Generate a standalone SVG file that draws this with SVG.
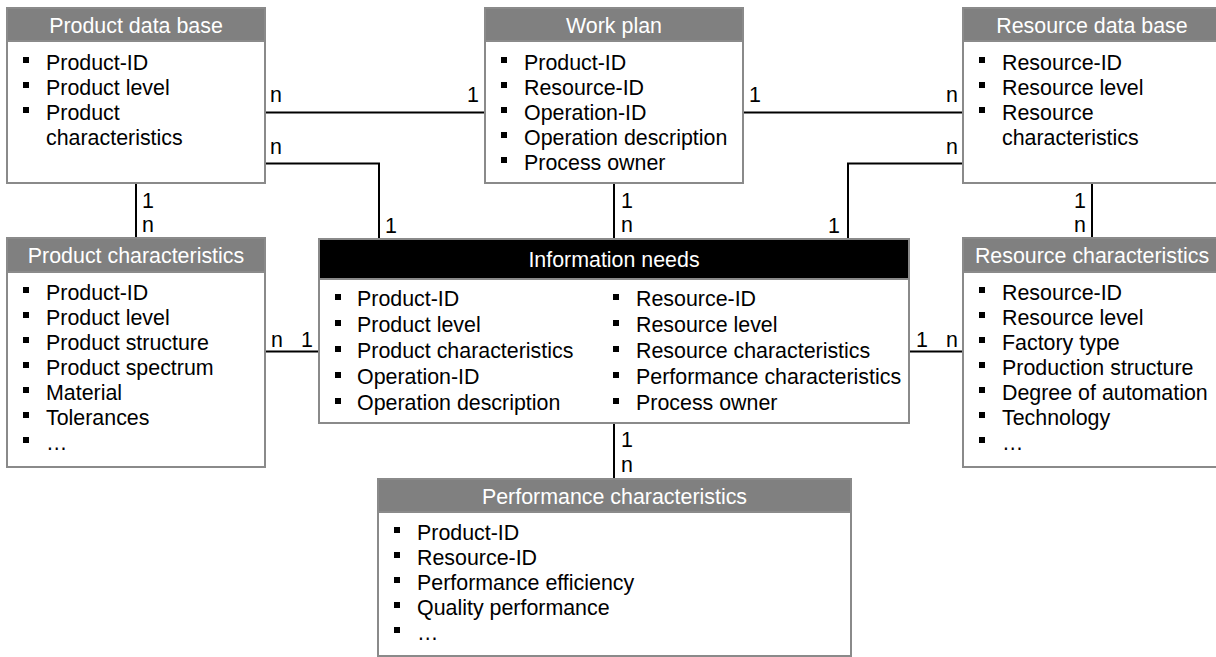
<svg xmlns="http://www.w3.org/2000/svg" width="1216" height="657" viewBox="0 0 1216 657">
<style>
text{font-family:"Liberation Sans",Arial,sans-serif;font-size:21.4px;fill:#000}
.body{fill:#fff;stroke:#8a8a8a;stroke-width:2}
.hd{fill:#808080;stroke:#8a8a8a;stroke-width:2}
.hdb{fill:#000;stroke:#8a8a8a;stroke-width:2}
.ht{fill:#fff;text-anchor:middle}
.b{fill:#000}
.ln{fill:none;stroke:#000;stroke-width:2}
.e{text-anchor:end}
</style>
<rect width="1216" height="657" fill="#fff"/>
<g id="connectors">
<path class="ln" d="M265 112.5H485"/>
<path class="ln" d="M743 112.5H963"/>
<path class="ln" d="M265 163.5H379V239"/>
<path class="ln" d="M963 163.5H848V239"/>
<path class="ln" d="M614 183V239"/>
<path class="ln" d="M136 183V238"/>
<path class="ln" d="M1092 183V238"/>
<path class="ln" d="M265 351.5H319"/>
<path class="ln" d="M909 351.5H963"/>
<path class="ln" d="M614 423V479"/>
<text x="270" y="102">n</text>
<text class="e" x="479" y="102">1</text>
<text x="749" y="102">1</text>
<text class="e" x="958" y="102">n</text>
<text x="270" y="154">n</text>
<text class="e" x="958" y="154">n</text>
<text x="385" y="233">1</text>
<text class="e" x="840" y="233">1</text>
<text x="621" y="208">1</text>
<text x="621" y="232">n</text>
<text x="142" y="208">1</text>
<text x="142" y="232">n</text>
<text class="e" x="1086" y="208">1</text>
<text class="e" x="1086" y="232">n</text>
<text x="271" y="347">n</text>
<text class="e" x="313" y="347">1</text>
<text x="916" y="347">1</text>
<text class="e" x="958" y="347">n</text>
<text x="621" y="447">1</text>
<text x="621" y="472">n</text>
</g>
<g id="product-db">
<rect class="body" x="7" y="8" width="258" height="175"/>
<rect class="hd" x="7" y="8" width="258" height="33"/>
<text class="ht" x="136" y="32.5">Product data base</text>
<rect class="b" x="23" y="57" width="6" height="6"/><text x="46" y="69.5">Product-ID</text>
<rect class="b" x="23" y="82" width="6" height="6"/><text x="46" y="94.5">Product level</text>
<rect class="b" x="23" y="107" width="6" height="6"/><text x="46" y="119.5">Product</text>
<text x="46" y="144.5">characteristics</text>
</g>
<g id="work-plan">
<rect class="body" x="485" y="8" width="258" height="175"/>
<rect class="hd" x="485" y="8" width="258" height="33"/>
<text class="ht" x="614" y="32.5">Work plan</text>
<rect class="b" x="501" y="57" width="6" height="6"/><text x="524" y="69.5">Product-ID</text>
<rect class="b" x="501" y="82" width="6" height="6"/><text x="524" y="94.5">Resource-ID</text>
<rect class="b" x="501" y="107" width="6" height="6"/><text x="524" y="119.5">Operation-ID</text>
<rect class="b" x="501" y="132" width="6" height="6"/><text x="524" y="144.5">Operation description</text>
<rect class="b" x="501" y="157" width="6" height="6"/><text x="524" y="169.5">Process owner</text>
</g>
<g id="resource-db">
<rect class="body" x="963" y="8" width="258" height="175"/>
<rect class="hd" x="963" y="8" width="258" height="33"/>
<text class="ht" x="1092" y="32.5">Resource data base</text>
<rect class="b" x="979" y="57" width="6" height="6"/><text x="1002" y="69.5">Resource-ID</text>
<rect class="b" x="979" y="82" width="6" height="6"/><text x="1002" y="94.5">Resource level</text>
<rect class="b" x="979" y="107" width="6" height="6"/><text x="1002" y="119.5">Resource</text>
<text x="1002" y="144.5">characteristics</text>
</g>
<g id="product-char">
<rect class="body" x="7" y="238" width="258" height="229"/>
<rect class="hd" x="7" y="238" width="258" height="34"/>
<text class="ht" x="136" y="263">Product characteristics</text>
<rect class="b" x="23" y="287" width="6" height="6"/><text x="46" y="299.5">Product-ID</text>
<rect class="b" x="23" y="312" width="6" height="6"/><text x="46" y="324.5">Product level</text>
<rect class="b" x="23" y="337" width="6" height="6"/><text x="46" y="349.5">Product structure</text>
<rect class="b" x="23" y="362" width="6" height="6"/><text x="46" y="374.5">Product spectrum</text>
<rect class="b" x="23" y="387" width="6" height="6"/><text x="46" y="399.5">Material</text>
<rect class="b" x="23" y="412" width="6" height="6"/><text x="46" y="424.5">Tolerances</text>
<rect class="b" x="23" y="437" width="6" height="6"/><text x="46" y="449.5">…</text>
</g>
<g id="information-needs">
<rect class="body" x="319" y="239" width="590" height="184"/>
<rect class="hdb" x="319" y="239" width="590" height="40"/>
<text class="ht" x="614" y="266.5">Information needs</text>
<rect class="b" x="335" y="294" width="6" height="6"/><text x="357" y="306">Product-ID</text>
<rect class="b" x="335" y="320" width="6" height="6"/><text x="357" y="332">Product level</text>
<rect class="b" x="335" y="346" width="6" height="6"/><text x="357" y="358">Product characteristics</text>
<rect class="b" x="335" y="372" width="6" height="6"/><text x="357" y="384">Operation-ID</text>
<rect class="b" x="335" y="398" width="6" height="6"/><text x="357" y="410">Operation description</text>
<rect class="b" x="613" y="294" width="6" height="6"/><text x="636" y="306">Resource-ID</text>
<rect class="b" x="613" y="320" width="6" height="6"/><text x="636" y="332">Resource level</text>
<rect class="b" x="613" y="346" width="6" height="6"/><text x="636" y="358">Resource characteristics</text>
<rect class="b" x="613" y="372" width="6" height="6"/><text x="636" y="384">Performance characteristics</text>
<rect class="b" x="613" y="398" width="6" height="6"/><text x="636" y="410">Process owner</text>
</g>
<g id="resource-char">
<rect class="body" x="963" y="238" width="258" height="229"/>
<rect class="hd" x="963" y="238" width="258" height="34"/>
<text class="ht" x="1092" y="263">Resource characteristics</text>
<rect class="b" x="979" y="287" width="6" height="6"/><text x="1002" y="299.5">Resource-ID</text>
<rect class="b" x="979" y="312" width="6" height="6"/><text x="1002" y="324.5">Resource level</text>
<rect class="b" x="979" y="337" width="6" height="6"/><text x="1002" y="349.5">Factory type</text>
<rect class="b" x="979" y="362" width="6" height="6"/><text x="1002" y="374.5">Production structure</text>
<rect class="b" x="979" y="387" width="6" height="6"/><text x="1002" y="399.5">Degree of automation</text>
<rect class="b" x="979" y="412" width="6" height="6"/><text x="1002" y="424.5">Technology</text>
<rect class="b" x="979" y="437" width="6" height="6"/><text x="1002" y="449.5">…</text>
</g>
<g id="performance-char">
<rect class="body" x="378" y="479" width="473" height="177"/>
<rect class="hd" x="378" y="479" width="473" height="33"/>
<text class="ht" x="614.5" y="503.5">Performance characteristics</text>
<rect class="b" x="394" y="527" width="6" height="6"/><text x="417" y="539.5">Product-ID</text>
<rect class="b" x="394" y="552" width="6" height="6"/><text x="417" y="564.5">Resource-ID</text>
<rect class="b" x="394" y="577" width="6" height="6"/><text x="417" y="589.5">Performance efficiency</text>
<rect class="b" x="394" y="602" width="6" height="6"/><text x="417" y="614.5">Quality performance</text>
<rect class="b" x="394" y="627" width="6" height="6"/><text x="417" y="639.5">…</text>
</g>
</svg>
